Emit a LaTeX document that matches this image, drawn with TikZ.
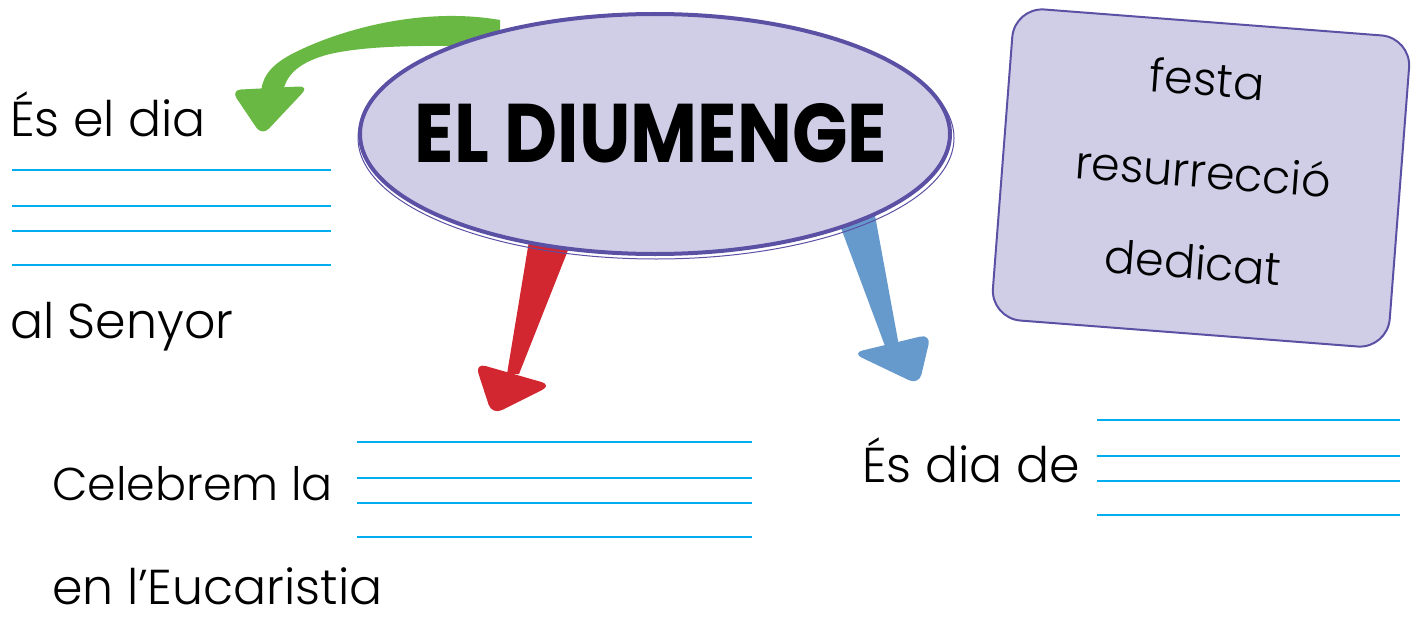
\documentclass[tikz,border=0pt]{standalone}
\usepackage{fontspec}
\setmainfont{Poppins}
\newfontfamily\hand{Poppins Light}
\usetikzlibrary{shapes.geometric}
\definecolor{lilafill}{HTML}{D0CEE7}
\definecolor{lilaline}{HTML}{5A51A4}
\definecolor{agreen}{HTML}{6AB844}
\definecolor{ared}{HTML}{D22630}
\definecolor{ablue}{HTML}{6699CC}
\definecolor{wline}{HTML}{00AEEF}
\tikzset{
  handtext/.style={anchor=base west, inner sep=0pt, font=\hand\fontsize{49}{56}\selectfont},
  boxtext/.style={anchor=base, inner sep=0pt, rotate=-4.4, font=\hand\fontsize{46}{52}\selectfont},
  wrline/.style={draw=wline, line width=2pt},
}
\begin{document}
\begin{tikzpicture}[x=1pt,y=-1pt]
\useasboundingbox (0,0) rectangle (1421,618);
% arrows (under the ellipse)
\fill[agreen] (500,20) .. controls (420,6) and (335,31) .. (290,55)
  .. controls (268,67) and (261,80) .. (261,95) -- (283,95)
  .. controls (284,74) and (302,61) .. (330,54)
  .. controls (370,45) and (430,45) .. (500,47) -- cycle;
\fill[agreen, rounded corners=10pt] (231,90) -- (309,86) -- (262,136) -- cycle;
\fill[ared] (530,235) -- (574,235) -- (519,374) -- (507,374) -- cycle;
\fill[ared, rounded corners=11pt] (475,363) -- (552,385) -- (492,415) -- cycle;
\fill[ablue] (838,220) -- (874,210) -- (899,346) -- (885,346) -- cycle;
\fill[ablue, rounded corners=11pt] (852,353) -- (931,334) -- (919,385) -- cycle;
% central ellipse
\draw[lilaline, line width=1pt] (656,138) ellipse [x radius=298, y radius=121];
\node[ellipse, draw=lilaline, fill=lilafill, line width=4pt, minimum width=590pt, minimum height=240pt, inner sep=0pt] (title) at (655,134) {};
\node[inner sep=0pt] (titletext) at (651,133) {\resizebox{472pt}{59pt}{\bfseries EL DIUMENGE}};
% rotated box
\node[draw=lilaline, fill=lilafill, line width=2pt, rounded corners=30pt, rotate=-4.4, minimum width=398pt, minimum height=312pt] (wordbox) at (1201,178) {};
\node[boxtext] (w1) at (1206,96) {festa};
\node[boxtext] (w2) at (1202,188) {resurrecció};
\node[boxtext] (w3) at (1192,279) {dedicat};
% texts
\node[handtext] (t1) at (10,136) {És el dia};
\node[handtext] (t2) at (10,338) {al Senyor};
\node[handtext, font=\hand\fontsize{46}{52}\selectfont] (t3) at (52,500) {Celebrem la};
\node[handtext] (t4) at (52,604) {en l’Eucaristia};
\node[handtext] (t5) at (862,482) {És dia de};
% writing lines
\foreach \y in {170,206,231,265} \draw[wrline] (12,\y) -- (331,\y);
\foreach \y in {442,478,503,537} \draw[wrline] (357,\y) -- (752,\y);
\foreach \y in {420,456,481,515} \draw[wrline] (1097,\y) -- (1400,\y);
\end{tikzpicture}
\end{document}
